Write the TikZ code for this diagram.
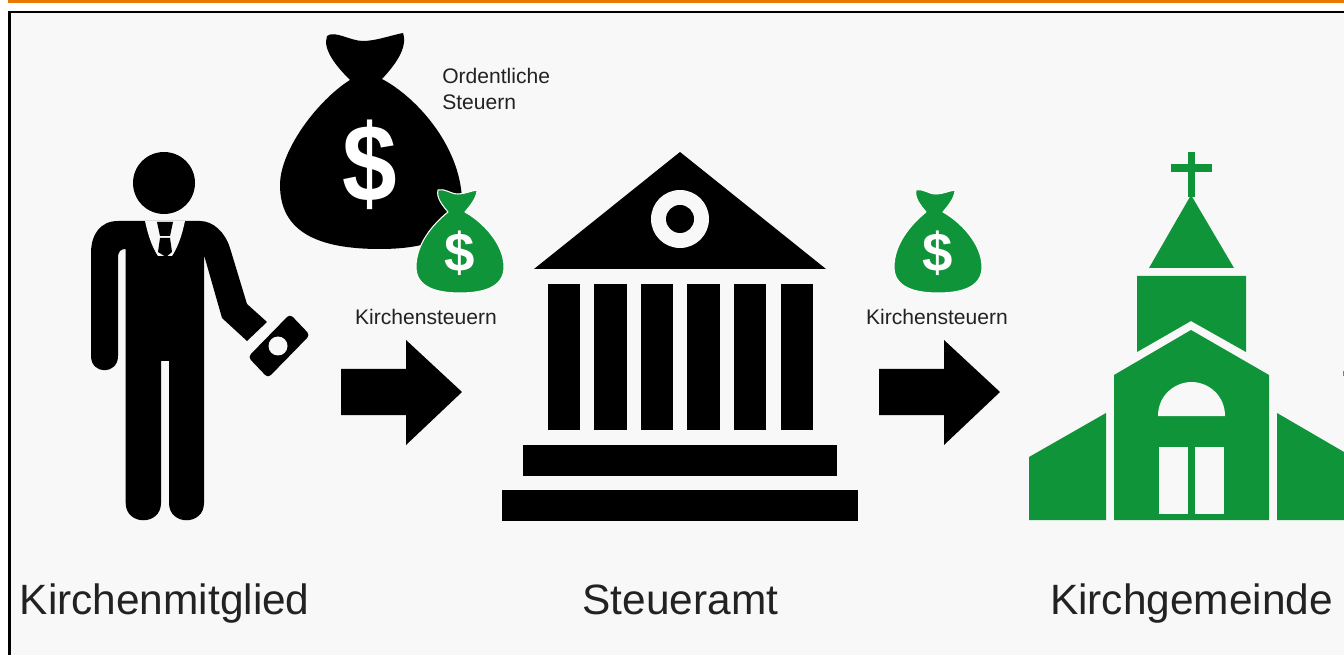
\documentclass[tikz,border=0pt]{standalone}
\usepackage{graphicx}
\usepackage{fontspec}
\setmainfont{Liberation Sans}
\definecolor{bggray}{HTML}{F8F8F8}
\definecolor{topbar}{HTML}{E87800}
\definecolor{churchgreen}{HTML}{10943A}
\definecolor{inkgray}{HTML}{222222}
\tikzset{
  ink/.style={fill=black,draw=none},
  grn/.style={fill=churchgreen,draw=none},
  hole/.style={fill=bggray,draw=none},
  bigtext/.style={text=inkgray,inner sep=0pt,font=\fontsize{31.8}{36}\selectfont},
  smalltext/.style={text=inkgray,inner sep=0pt,font=\fontsize{15.8}{19.5}\selectfont},
}
\newcommand{\flowarrow}[1]{%
  \begin{scope}[shift={(#1,0)}]
    \fill[ink] (341,369) -- (406,369) -- (406,340) -- (462,392) -- (406,445) -- (406,415) -- (341,415) -- cycle;
  \end{scope}}
\newcommand{\greenbag}[2]{%
  \begin{scope}[shift={(#1,0)}]
    \path[grn,draw=white,line width=0.8pt,line join=round]
      (438,190) .. controls (445,188) and (450,194) .. (458,194)
      .. controls (465,194) and (470,191) .. (477,190)
      .. controls (477,198) and (470,206) .. (465,212)
      .. controls (483,222) and (504,244) .. (504,267)
      .. controls (504,288) and (482,293) .. (460,293)
      .. controls (438,293) and (416,288) .. (416,267)
      .. controls (416,244) and (433,224) .. (448,212)
      .. controls (443,206) and (436,198) .. (438,190) -- cycle;
    \node[text=white,inner sep=0pt,font=\fontsize{41}{41}\bfseries\selectfont] (#2) at (460,253) {\$};
  \end{scope}}
\begin{document}
\begin{tikzpicture}[x=0.75pt,y=-0.75pt]
\useasboundingbox (0,0) rectangle (1344,655);
\fill[white] (0,0) rectangle (1344,655);
\fill[topbar] (8,0) rectangle (1344,2.6);
\fill[bggray] (9,12) rectangle (1344,655);
\draw[black,line width=1.6pt] (1344,12) -- (9.5,12) -- (9.5,655);

% person
\fill[ink] (164,183) circle[radius=31];
\fill[ink] (145,221) -- (118,221) .. controls (100,221) and (91,235) .. (91,253)
  -- (91,356) .. controls (91,375) and (118,375) .. (118,356)
  -- (118,258) .. controls (118,251) and (121,249) .. (125.7,249)
  -- (125.7,503) .. controls (125.7,526) and (161,526) .. (161,503)
  -- (161,361) -- (169,361) -- (169,503) .. controls (169,526) and (204,526) .. (204,503)
  -- (204,255) -- (222,318) -- (247,341) -- (267,322) -- (247,304) -- (230,248)
  .. controls (225,232) and (213,221) .. (200,221) -- cycle;
\fill[hole] (145,221) -- (185,221) .. controls (182,235) and (178,247) .. (172,256) -- (158,256) .. controls (152,247) and (148,235) .. (145,221) -- cycle;
\fill[ink] (157,222) -- (173,222) -- (170,236) -- (160,236) -- cycle;
\fill[ink] (160,238) -- (170,238) -- (172,252) -- (166,257) -- (158,252) -- cycle;
\fill[ink,rounded corners=3pt] (290,314) -- (310,335) -- (268,378) -- (248,357) -- cycle;
\fill[hole] (278,346) circle[radius=9.5];

% big bag
\fill[ink] (327,36) .. controls (335,30) and (350,41) .. (363,41)
  .. controls (376,41) and (392,35) .. (403,33)
  .. controls (408,48) and (395,65) .. (382,79)
  .. controls (418,98) and (464,150) .. (462,207)
  .. controls (462,238) and (425,249) .. (380,249)
  .. controls (318,249) and (280,232) .. (280,185)
  .. controls (280,150) and (318,100) .. (350,80)
  .. controls (338,68) and (322,50) .. (327,36) -- cycle;
\node[text=white,inner sep=0pt,font=\fontsize{80}{80}\bfseries\selectfont] (bigdollar) at (370,165) {\scalebox{.92}[1.03]{\$}};
\greenbag{0}{dollarone}
\node[smalltext,anchor=base west] (ordentliche) at (442,84) {Ordentliche};
\node[smalltext,anchor=base west] (steuern) at (442,110) {Steuern};
\node[smalltext,anchor=base] (kstone) at (426,324.5) {Kirchensteuern};
\flowarrow{0}

% tax office
\fill[ink,line join=round] (680,152) -- (826,269) -- (534,269) -- cycle;
\fill[hole] (680,219) circle[radius=29];
\fill[ink] (680,219) circle[radius=14];
\foreach \a/\b in {548/580,594/627,641/673,687/720,734/766,781/813}
  \fill[ink] (\a,284) rectangle (\b,430);
\fill[ink] (523,445) rectangle (837,476);
\fill[ink] (502,490) rectangle (858,521);

\greenbag{478}{dollartwo}
\node[smalltext,anchor=base] (ksttwo) at (937,324.5) {Kirchensteuern};
\flowarrow{538}

% church
\fill[grn] (1188,152) rectangle (1195,197);
\fill[grn] (1171,164) rectangle (1212,172);
\fill[grn] (1191,195) -- (1234,268) -- (1149,268) -- cycle;
\fill[grn] (1137,276) -- (1246,276) -- (1246,352) -- (1191,321) -- (1137,352) -- cycle;
\fill[grn] (1191,330) -- (1269,375) -- (1269,520) -- (1114,520) -- (1114,375) -- cycle;
\fill[hole] (1158,416) .. controls (1158,395) and (1175,382) .. (1191.5,382) .. controls (1208,382) and (1225,395) .. (1225,416) -- cycle;
\fill[hole] (1159,447) rectangle (1188,514);
\fill[hole] (1195,447) rectangle (1224,514);
\fill[grn] (1029,457) -- (1106,413) -- (1106,520) -- (1029,520) -- cycle;
\fill[grn] (1277,413) -- (1344,452) -- (1344,520) -- (1277,520) -- cycle;
\fill[gray] (1342.5,371) rectangle (1344,376);

\node[bigtext,anchor=base west] (member) at (19.5,614) {Kirchenmitglied};
\node[bigtext,anchor=base] (office) at (680.5,614) {Steueramt};
\node[bigtext,anchor=base] (parish) at (1191.5,614) {Kirchgemeinde};
\end{tikzpicture}
\end{document}
